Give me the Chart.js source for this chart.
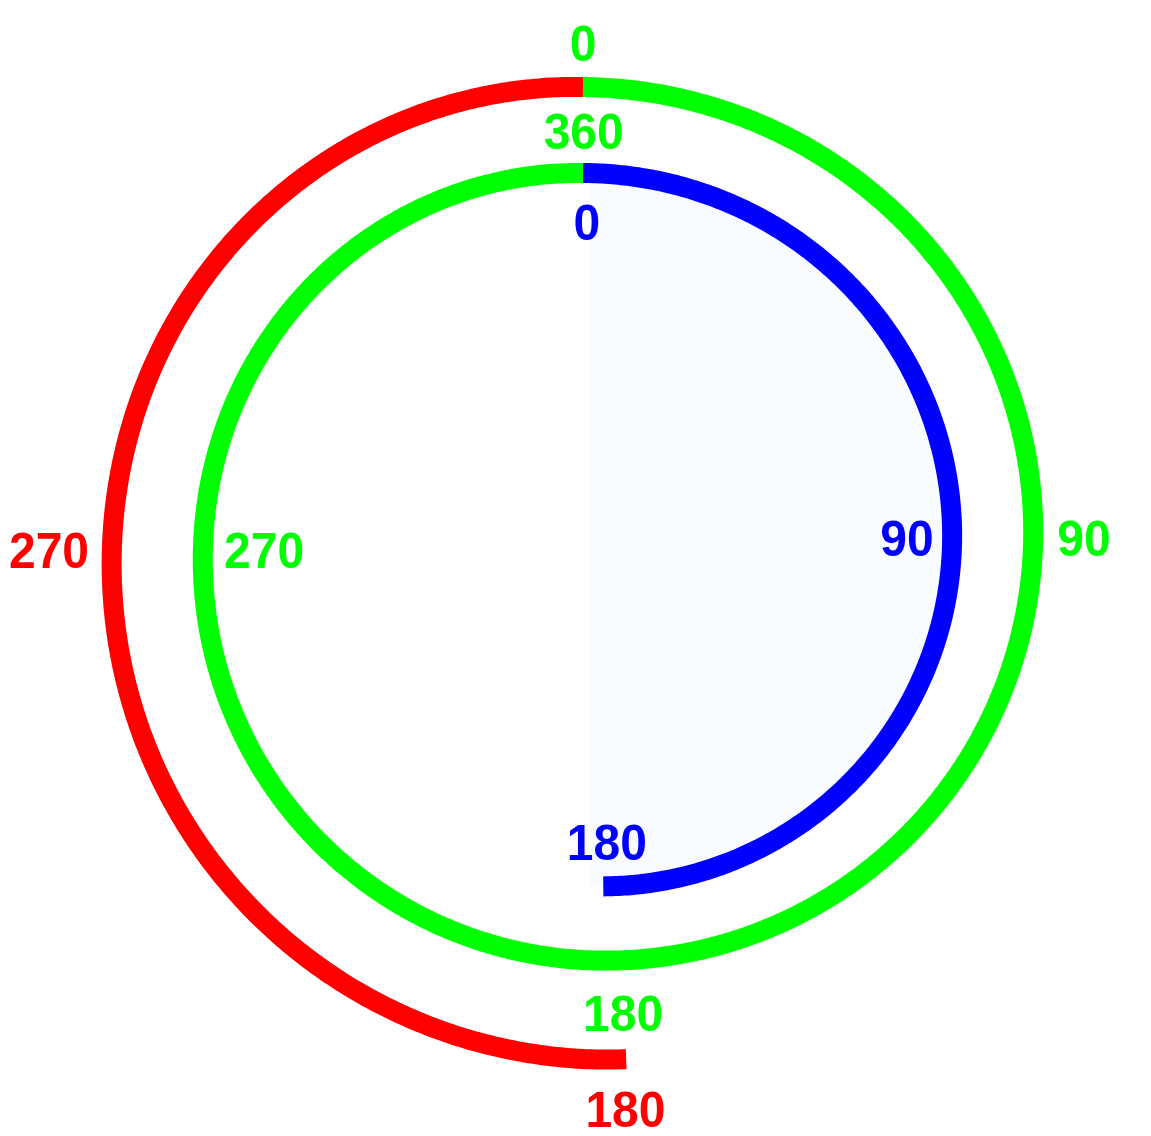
<!DOCTYPE html>
<html><head><meta charset="utf-8">
<script src="https://cdn.jsdelivr.net/npm/chart.js@4/dist/chart.umd.min.js"></script>
<style>html,body{margin:0;padding:0;background:#fff;overflow:hidden}</style>
</head><body>
<canvas id="c" width="1151" height="1136"></canvas>
<script>
// Spiral centre (data units)
const centerX = 583;
const centerY = 545;

// Key angles (degrees, clockwise from top) and radii for each arc
const blueAngles = [0, 90, 176.6];
const blueRadii = [372, 369, 342];
const greenAngles = [0, 90, 180, 270, 360];
const greenRadii = [458, 450, 415, 380, 372];
const redAngles = [0, -90, -180, -184.8];
const redRadii = [458, 471, 514, 516];

// Angle labels
const labelTexts  = ['0', '360', '0', '90', '90', '270', '270', '180', '180', '180'];
const labelSeries = ['green', 'green', 'blue', 'blue', 'green', 'green', 'red', 'blue', 'green', 'red'];
const labelAngles = [0, 0.1, 0.7, 88.8, 89.2, 269.1, 269.5, 175.4, 175.1, 175.7];
const labelRadii  = [502, 414, 323, 324, 501, 319, 534, 298, 470, 566];

const colors = { blue: '#0000ff', green: '#00ff00', red: '#ff0000' };
const arcs = [
  { name: 'blue', angles: blueAngles, radii: blueRadii },
  { name: 'green', angles: greenAngles, radii: greenRadii },
  { name: 'red', angles: redAngles, radii: redRadii }
];

function polar(a, r) {
  const t = a * Math.PI / 180;
  return { x: centerX + r * Math.sin(t), y: centerY - r * Math.cos(t) };
}

// smooth (cubic Hermite) radius between key angles
function arcPath(angles, radii) {
  const n = angles.length;
  const m = angles.map((a, i) => {
    if (i === 0) return (radii[1] - radii[0]) / (angles[1] - angles[0]);
    if (i === n - 1) return (radii[n - 1] - radii[n - 2]) / (angles[n - 1] - angles[n - 2]);
    return (radii[i + 1] - radii[i - 1]) / (angles[i + 1] - angles[i - 1]);
  });
  const pts = [];
  for (let i = 0; i < n - 1; i++) {
    const a0 = angles[i], a1 = angles[i + 1], r0 = radii[i], r1 = radii[i + 1];
    const h = a1 - a0;
    const steps = Math.max(2, Math.ceil(Math.abs(h) * 2));
    for (let k = (i === 0 ? 0 : 1); k <= steps; k++) {
      const t = k / steps, t2 = t * t, t3 = t2 * t;
      const r = (2 * t3 - 3 * t2 + 1) * r0 + (t3 - 2 * t2 + t) * h * m[i] +
                (-2 * t3 + 3 * t2) * r1 + (t3 - t2) * h * m[i + 1];
      pts.push(polar(a0 + h * t, r));
    }
  }
  return pts;
}

const spiralPlugin = {
  id: 'spiral',
  afterDatasetsDraw(chart) {
    const ctx = chart.ctx;
    const xs = chart.scales.x, ys = chart.scales.y;
    const px = p => ({ x: xs.getPixelForValue(p.x), y: ys.getPixelForValue(p.y) });
    ctx.save();
    // faint tint inside the blue arc
    const bp = arcPath(blueAngles, blueRadii).map(px);
    ctx.beginPath();
    ctx.moveTo(xs.getPixelForValue(centerX + 7), bp[0].y);
    bp.forEach(p => ctx.lineTo(p.x, p.y));
    ctx.lineTo(xs.getPixelForValue(centerX + 7), bp[bp.length - 1].y);
    ctx.closePath();
    ctx.fillStyle = '#f8fbff';
    ctx.fill();
    // arcs
    ctx.lineWidth = 20;
    ctx.lineCap = 'butt';
    ctx.lineJoin = 'round';
    arcs.forEach(a => {
      const pts = arcPath(a.angles, a.radii).map(px);
      ctx.beginPath();
      pts.forEach((p, i) => i ? ctx.lineTo(p.x, p.y) : ctx.moveTo(p.x, p.y));
      ctx.strokeStyle = colors[a.name];
      ctx.stroke();
    });
    // labels
    const fs = 48;
    ctx.font = 'bold ' + fs + 'px "Liberation Sans", Arial, sans-serif';
    ctx.textAlign = 'center';
    ctx.textBaseline = 'alphabetic';
    labelTexts.forEach((t, i) => {
      const p = px(polar(labelAngles[i], labelRadii[i]));
      ctx.fillStyle = colors[labelSeries[i]];
      ctx.save();
      ctx.translate(p.x, p.y);
      ctx.scale(1, 1.05);
      ctx.fillText(t, 0, fs * 0.358);
      ctx.restore();
    });
    ctx.restore();
  }
};

new Chart(document.getElementById('c'), {
  type: 'scatter',
  data: {
    datasets: arcs.map(a => ({
      label: a.name,
      data: a.angles.map((ang, i) => polar(ang, a.radii[i])),
      pointRadius: 0,
      showLine: false,
      borderColor: colors[a.name],
      backgroundColor: colors[a.name]
    }))
  },
  options: {
    responsive: false,
    animation: false,
    layout: { padding: 0 },
    plugins: { legend: { display: false }, tooltip: { enabled: false } },
    scales: {
      x: { type: 'linear', min: 0, max: 1151, display: false },
      y: { type: 'linear', min: 0, max: 1136, reverse: true, display: false }
    }
  },
  plugins: [spiralPlugin]
});
</script>
</body></html>
